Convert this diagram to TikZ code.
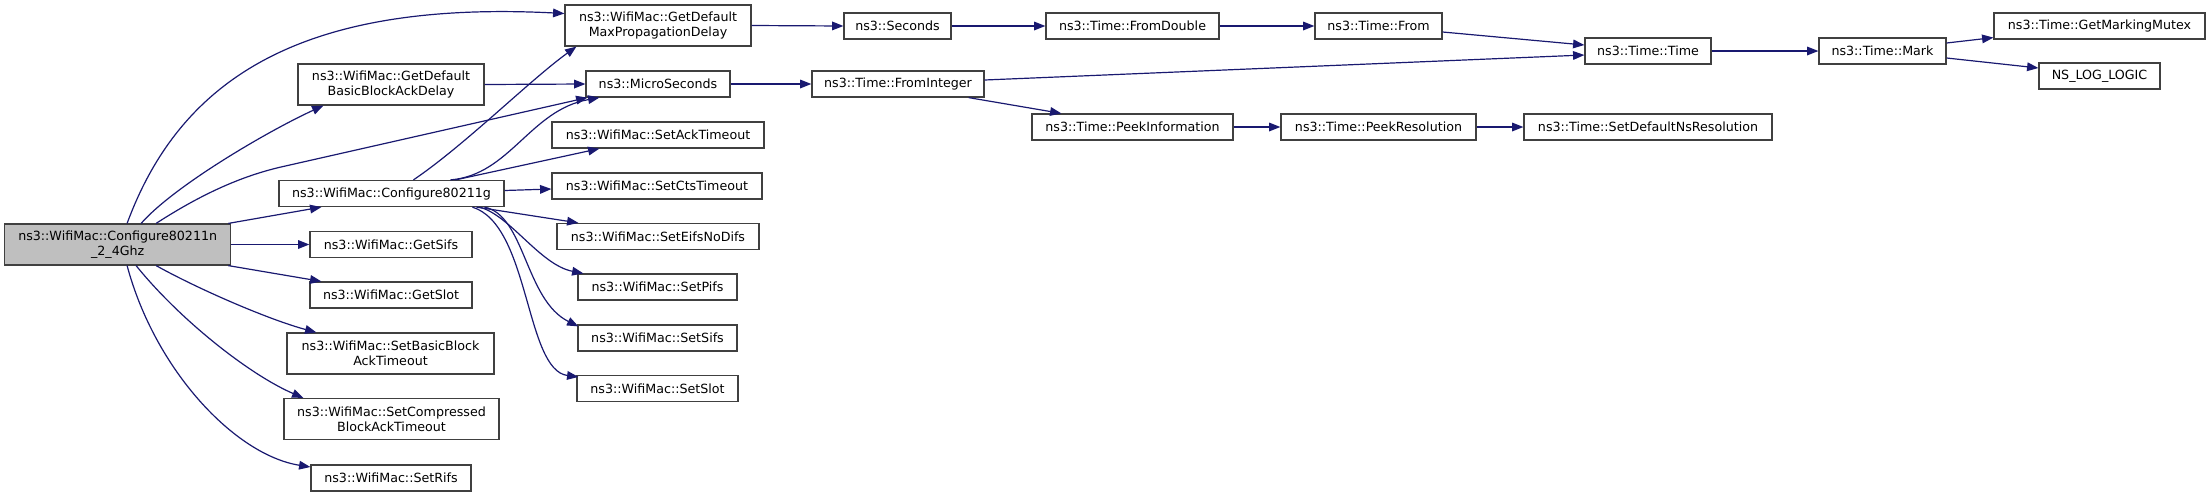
\documentclass[tikz,border=0pt]{standalone}
\usepackage{fontspec}
\setmainfont{DejaVu Sans}
\usepackage{tikz}
\usetikzlibrary{calc,arrows.meta}
\definecolor{dblue}{HTML}{191970}
\definecolor{dgrey}{HTML}{404040}
\definecolor{rgrey}{HTML}{BFBFBF}

\begin{document}
\begin{tikzpicture}[x=0.75pt, y=-0.75pt, font=\fontsize{9.5}{11.5}\selectfont,
  box/.style={draw=dgrey, fill=white, line width=0.9pt, align=center,
              inner sep=0pt, minimum height=19.5pt},
  box2/.style={box, minimum height=30.75pt},
  w/.style={minimum width=#1*0.75pt},
  arr/.style={-{Triangle[length=8.5pt,width=6.5pt]}, line width=0.9pt, draw=dblue}]
  \useasboundingbox (0,0) rectangle (2211,497);
  % caller
  \node[box2, fill=rgrey, w=226] (root) at (117.7,244.5) {ns3::WifiMac::Configure80211n\\\_2\_4Ghz};
  % second column
  \node[box2, w=186] (bbad)    at (391,84.5)  {ns3::WifiMac::GetDefault\\BasicBlockAckDelay};
  \node[box,  w=225] (cfg)     at (391.5,193.5) {ns3::WifiMac::Configure80211g};
  \node[box,  w=162] (getsifs) at (391,244.5) {ns3::WifiMac::GetSifs};
  \node[box,  w=162] (getslot) at (391,295)   {ns3::WifiMac::GetSlot};
  \node[box2, w=207] (sbbat)   at (390.5,353.5) {ns3::WifiMac::SetBasicBlock\\AckTimeout};
  \node[box2, w=215] (scbat)   at (391.5,419) {ns3::WifiMac::SetCompressed\\BlockAckTimeout};
  \node[box,  w=160] (rifs)    at (391,478)   {ns3::WifiMac::SetRifs};
  % third column
  \node[box2, w=186] (maxprop) at (658,25.5)  {ns3::WifiMac::GetDefault\\MaxPropagationDelay};
  \node[box,  w=144] (micro)   at (658,84)    {ns3::MicroSeconds};
  \node[box,  w=212] (ackto)   at (658,135)   {ns3::WifiMac::SetAckTimeout};
  \node[box,  w=210] (ctsto)   at (657,186)   {ns3::WifiMac::SetCtsTimeout};
  \node[box,  w=202] (eifs)    at (658,236.5) {ns3::WifiMac::SetEifsNoDifs};
  \node[box,  w=159] (pifs)    at (657.5,287) {ns3::WifiMac::SetPifs};
  \node[box,  w=159] (setsifs) at (657.5,338) {ns3::WifiMac::SetSifs};
  \node[box,  w=161] (setslot) at (657.5,388.5) {ns3::WifiMac::SetSlot};
  % time helpers
  \node[box,  w=107] (seconds) at (897.5,26)  {ns3::Seconds};
  \node[box,  w=172] (fromint) at (898,84)    {ns3::Time::FromInteger};
  \node[box,  w=173] (fromdbl) at (1132.5,26) {ns3::Time::FromDouble};
  \node[box,  w=201] (peekinfo) at (1132.5,127) {ns3::Time::PeekInformation};
  \node[box,  w=127] (from)    at (1378.5,26) {ns3::Time::From};
  \node[box,  w=195] (peekres) at (1378.5,127) {ns3::Time::PeekResolution};
  \node[box,  w=126] (ttime)   at (1648,51)   {ns3::Time::Time};
  \node[box,  w=248] (setres)  at (1648,127)  {ns3::Time::SetDefaultNsResolution};
  \node[box,  w=127] (mark)    at (1882.5,51) {ns3::Time::Mark};
  \node[box,  w=211] (mutex)   at (2099.5,26) {ns3::Time::GetMarkingMutex};
  \node[box,  w=121] (nslog)   at (2099.5,76) {NS\_LOG\_LOGIC};
  % calls from the caller
  \draw[arr] ($(root.north west)+(123,0)$) .. controls (180,80) and (300,0) .. ($(maxprop.west)+(0,-12)$);
  \draw[arr] ($(root.north west)+(137,0)$) .. controls (175,185) and (270,130) .. ($(bbad.south west)+(26,0)$);
  \draw[arr] ($(root.north west)+(152,0)$) .. controls (200,195) and (240,176.5) .. (281,167) -- ($(micro.south west)+(2,0)$);
  \draw[arr] ($(root.north east)+(-3,0)$) -- ($(cfg.south west)+(43,0)$);
  \draw[arr] (root.east) -- (getsifs.west);
  \draw[arr] ($(root.south east)+(-3,0)$) -- ($(getslot.north west)+(12,0)$);
  \draw[arr] ($(root.south west)+(152,0)$) .. controls (200,290) and (270,320) .. ($(sbbat.north west)+(30,0)$);
  \draw[arr] ($(root.south west)+(132,0)$) .. controls (180,320) and (250,375) .. ($(scbat.north west)+(20,0)$);
  \draw[arr] ($(root.south west)+(123,0)$) .. controls (155,370) and (235,455) .. ($(rifs.west)+(0,-11)$);
  \draw[arr] (bbad.east) -- (micro.west);
  % calls from Configure80211g
  \draw[arr] ($(cfg.north west)+(135,0)$) .. controls (465,145) and (530,80) .. ($(maxprop.south west)+(12,0)$);
  \draw[arr] ($(cfg.north west)+(172,0)$) .. controls (510,175) and (530,110) .. ($(micro.south west)+(14,0)$);
  \draw[arr] ($(cfg.north west)+(177,0)$) -- ($(ackto.south west)+(48,0)$);
  \draw[arr] ($(cfg.east)+(0,-3)$) -- ($(ctsto.west)+(0,3)$);
  \draw[arr] ($(cfg.south west)+(198,0)$) -- ($(eifs.north west)+(22,0)$);
  \draw[arr] ($(cfg.south west)+(201,0)$) .. controls (510,215) and (540,265) .. ($(pifs.north west)+(6,0)$);
  \draw[arr] ($(cfg.south west)+(206,0)$) .. controls (525,215) and (525,300) .. ($(setsifs.north west)+(1,2)$);
  \draw[arr] ($(cfg.south west)+(194,0)$) .. controls (530,225) and (525,370) .. ($(setslot.north west)+(2,2)$);
  % time chain
  \draw[arr] (maxprop.east) -- (seconds.west);
  \draw[arr] (seconds) -- (fromdbl);
  \draw[arr] (fromdbl) -- (from);
  \draw[arr] ($(from.east)+(0,6)$) -- ($(ttime.west)+(0,-6)$);
  \draw[arr] (micro) -- (fromint);
  \draw[arr] ($(fromint.east)+(0,-4)$) -- ($(ttime.west)+(0,4)$);
  \draw[arr] ($(fromint.south east)+(-16,0)$) -- ($(peekinfo.north west)+(30,0)$);
  \draw[arr] (peekinfo) -- (peekres);
  \draw[arr] (peekres) -- (setres);
  \draw[arr] (ttime) -- (mark);
  \draw[arr] ($(mark.east)+(0,-8)$) -- ($(mutex.south west)+(0,-2)$);
  \draw[arr] ($(mark.east)+(0,7)$) -- ($(nslog.west)+(0,-8)$);
\end{tikzpicture}
\end{document}
